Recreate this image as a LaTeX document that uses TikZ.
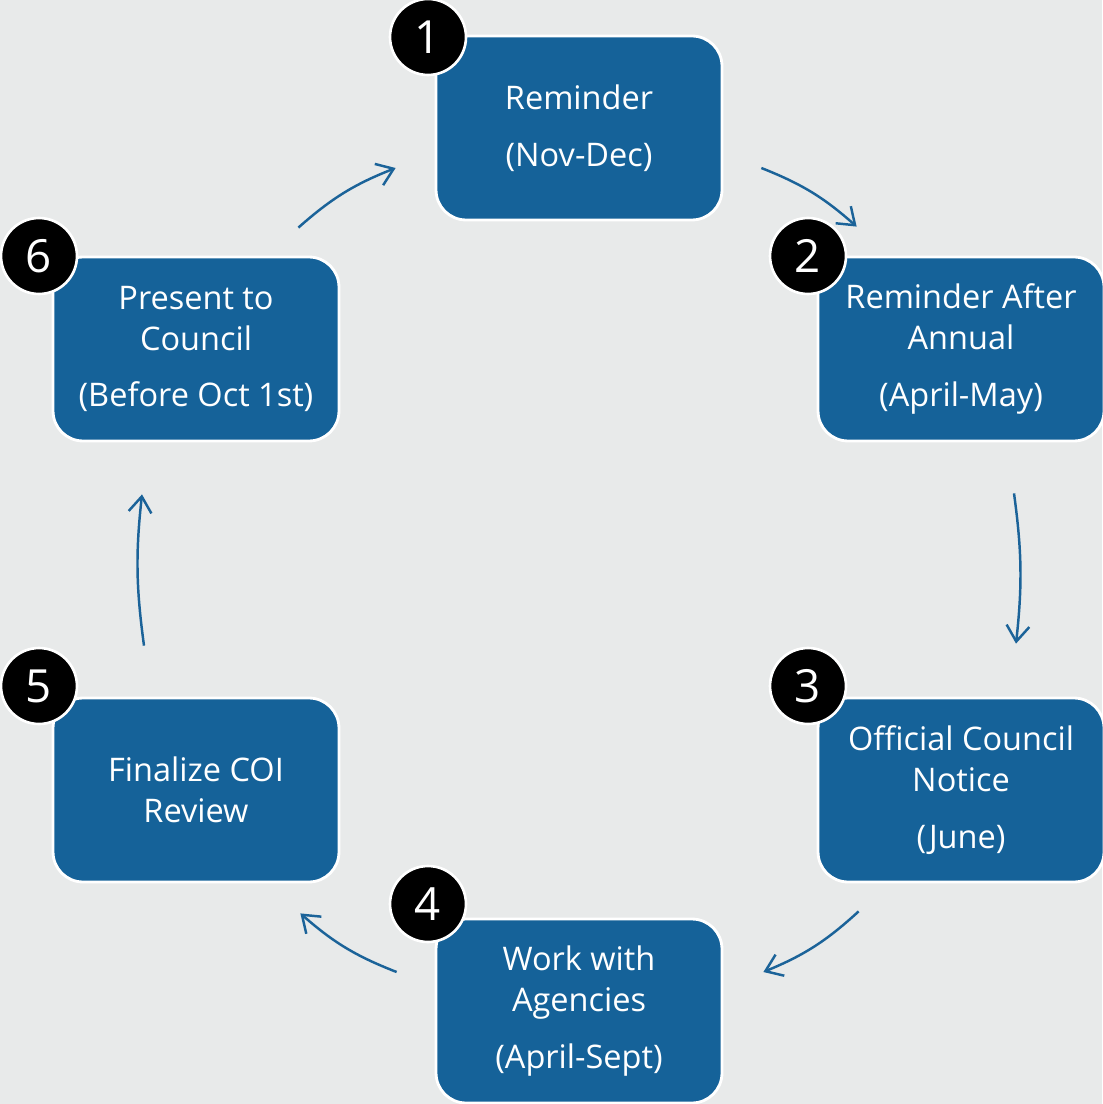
\documentclass[tikz,border=0pt]{standalone}
\usepackage{fontspec}
\setmainfont{Open Sans}
\usetikzlibrary{arrows.meta}
\definecolor{bgGrey}{HTML}{E8EAEA}
\definecolor{stageBlue}{HTML}{156299}
\definecolor{flowBlue}{HTML}{1B6399}
\tikzset{
  stagebox/.style={draw=white, line width=1.6pt, fill=stageBlue, rounded corners=0.6cm,
    minimum width=5.72cm, minimum height=3.68cm, text=white, align=center,
    font=\fontsize{18.5}{23.3}\selectfont},
  badge/.style={circle, draw=white, line width=1.5pt, fill=black, minimum size=1.52cm,
    inner sep=0pt, text=white, font=\fontsize{26}{28}\selectfont},
  flow/.style={draw=flowBlue, line width=1.4pt, -{Straight Barb[length=9pt,width=13pt]}},
}
\begin{document}
\begin{tikzpicture}[x=0.02cm, y=-0.02cm]
  \useasboundingbox (0,0) rectangle (1102,1104);
  \fill [bgGrey] (0,0) rectangle (1102,1104);
  % the six stages
  \node [stagebox] (remind) at (579,128) {Reminder\\[9pt](Nov-Dec)};
  \node [stagebox] (annual) at (961,349) {Reminder After\\Annual\\[9pt](April-May)};
  \node [stagebox] (notice) at (961,790) {Official Council\\Notice\\[9pt](June)};
  \node [stagebox] (agency) at (579,1011) {Work with\\Agencies\\[9pt](April-Sept)};
  \node [stagebox] (finalize) at (196,790) {Finalize COI\\Review};
  \node [stagebox] (present) at (196,349) {Present to\\Council\\[9pt](Before Oct 1st)};
  % numbers
  \node [badge] (n1) at (428,37) {1};
  \node [badge] (n2) at (808,256) {2};
  \node [badge] (n3) at (808,686) {3};
  \node [badge] (n4) at (428,904) {4};
  \node [badge] (n5) at (39,686) {5};
  \node [badge] (n6) at (39,256) {6};
  % cycle arrows
  \draw [flow] ([shift={(38,40)}]remind.east) to [bend left=10] ([shift={(40,-29)}]annual.north west);
  \draw [flow] ([shift={(53,51)}]annual.south) to [bend left=7] ([shift={(55,-53)}]notice.north);
  \draw [flow] ([shift={(42,28)}]notice.south west) to [bend left=10] ([shift={(40,-39)}]agency.east);
  \draw [flow] ([shift={(-38,-39)}]agency.west) to [bend left=10] ([shift={(-40,30)}]finalize.south east);
  \draw [flow] ([shift={(-52,-51)}]finalize.north) to [bend left=7] ([shift={(-54,52)}]present.south);
  \draw [flow] ([shift={(-42,-28)}]present.north east) to [bend left=10] ([shift={(-39,40)}]remind.west);
\end{tikzpicture}
\end{document}
